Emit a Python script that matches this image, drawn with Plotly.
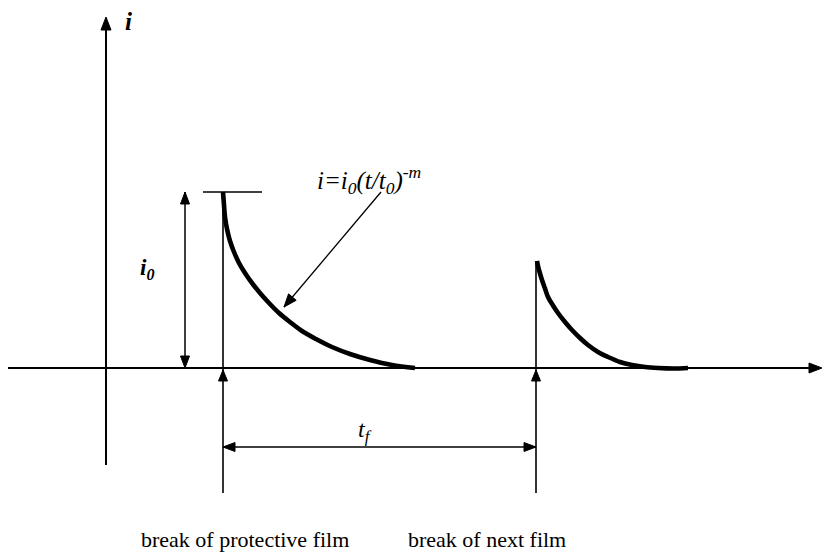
import math
import plotly.graph_objects as go

# Coordinates: t along the horizontal axis, i along the vertical axis (arbitrary units,
# origin at the crossing of the two axes, one unit per screen pixel).
T_BREAKS = [117, 430]          # moments the protective film breaks
I_PEAK = 176                   # current peak i0 at the first break
T_F_LEVEL = -79                # height of the t_f dimension arrow
GUIDE_BOTTOM = -125            # lower end of the break guide lines
I0_DIM_T = 79                  # position of the i0 dimension arrow

# first current transient after the film breaks
curve1_t = [117, 118, 119, 121, 124, 128, 133, 139, 146, 154, 163, 173, 184, 196,
            210, 226, 244, 264, 286, 309]
curve1_i = [176, 163, 151, 139, 127, 116, 105, 95, 85, 75, 65, 55, 46, 37,
            29, 21, 14, 8, 3, 0]

# second transient after the next film breaks
curve2_t = [431, 432, 434, 436, 439, 442, 447, 452, 459, 466, 474, 482, 492, 502,
            514, 526, 539, 552, 567, 582]
curve2_i = [107, 102, 94.5, 88, 79.5, 71, 62.5, 55, 46, 38, 30, 23, 16, 11,
            6, 3, 1, 0, -0.5, 0]

bottom_labels = ["break of protective film", "break of next film"]
bottom_label_t = [139, 381]

X_RANGE = [-106, 719]
Y_RANGE = [-185, 368]

SERIF = "Liberation Serif, Times New Roman, serif"
INK = "#000000"

fig = go.Figure()

for t, i in [(curve1_t, curve1_i), (curve2_t, curve2_i)]:
    fig.add_trace(go.Scatter(x=t, y=i, mode="lines",
                             line=dict(color=INK, width=4.6, shape="spline", smoothing=1.0),
                             hoverinfo="skip", showlegend=False))


def seg(x0, y0, x1, y1, width=1.6):
    fig.add_shape(type="line", x0=x0, y0=y0, x1=x1, y1=y1, xref="x", yref="y",
                  line=dict(color=INK, width=width), layer="below")


def head(tip_x, tip_y, from_x, from_y, length=12, width=9):
    """Filled arrowhead whose tip sits at (tip_x, tip_y), pointing away from (from_x, from_y)."""
    dx, dy = tip_x - from_x, tip_y - from_y
    n = math.hypot(dx, dy)
    ux, uy = dx / n, dy / n
    bx, by = tip_x - length * ux, tip_y - length * uy
    px, py = -uy * width / 2, ux * width / 2
    fig.add_trace(go.Scatter(x=[tip_x, bx + px, bx - px, tip_x],
                             y=[tip_y, by + py, by - py, tip_y],
                             mode="lines", fill="toself", fillcolor=INK,
                             line=dict(color=INK, width=1), hoverinfo="skip",
                             showlegend=False))


# axes
seg(X_RANGE[0] + 8, 0, 708, 0, width=2.0)
head(716, 0, 0, 0, length=13, width=10)
seg(0, -97, 0, 340, width=2.0)
head(0, 351, 0, 0, length=13, width=10)

# break guide lines
seg(T_BREAKS[0], I_PEAK, T_BREAKS[0], GUIDE_BOTTOM)
seg(T_BREAKS[1], curve2_i[0], T_BREAKS[1], GUIDE_BOTTOM)
# peak marker
seg(T_BREAKS[0] - 20, I_PEAK, T_BREAKS[0] + 39, I_PEAK)

# i0 dimension
seg(I0_DIM_T, 0, I0_DIM_T, I_PEAK, width=1.5)
head(I0_DIM_T, I_PEAK, I0_DIM_T, 0)
head(I0_DIM_T, 0, I0_DIM_T, I_PEAK)

# t_f dimension
seg(T_BREAKS[0], T_F_LEVEL, T_BREAKS[1], T_F_LEVEL, width=1.5)
head(T_BREAKS[1], T_F_LEVEL, T_BREAKS[0], T_F_LEVEL)
head(T_BREAKS[0], T_F_LEVEL, T_BREAKS[1], T_F_LEVEL)

# break markers on the time axis
for tb in T_BREAKS:
    head(tb, -2, tb, -20, length=11, width=9)

# pointer to the first transient
seg(275, 176, 178, 61, width=1.3)
head(178, 61, 275, 176, length=13, width=10)


def label(text, x, y, size, xanchor="center"):
    fig.add_annotation(x=x, y=y, xref="x", yref="y", text=text, showarrow=False,
                       xanchor=xanchor, yanchor="middle",
                       font=dict(family=SERIF, size=size, color=INK))


label("<b><i>i</i></b>", 17, 347, 25, xanchor="left")
label("<b><i>i<sub>0</sub></i></b>", 41, 99, 23)
label("<i>i=i<sub>0</sub>(t/t<sub>0</sub>)<sup>-m</sup></i>", 209, 188, 25, xanchor="left")
label("<i>t<sub>f</sub></i>", 259, -63, 24)
for text, t in zip(bottom_labels, bottom_label_t):
    label(text, t, -171, 22)

fig.update_xaxes(range=X_RANGE, visible=False, fixedrange=True)
fig.update_yaxes(range=Y_RANGE, visible=False, fixedrange=True)
fig.update_layout(width=825, height=553, margin=dict(l=0, r=0, t=0, b=0),
                  paper_bgcolor="white", plot_bgcolor="white", showlegend=False)

fig.write_html("out.html")
